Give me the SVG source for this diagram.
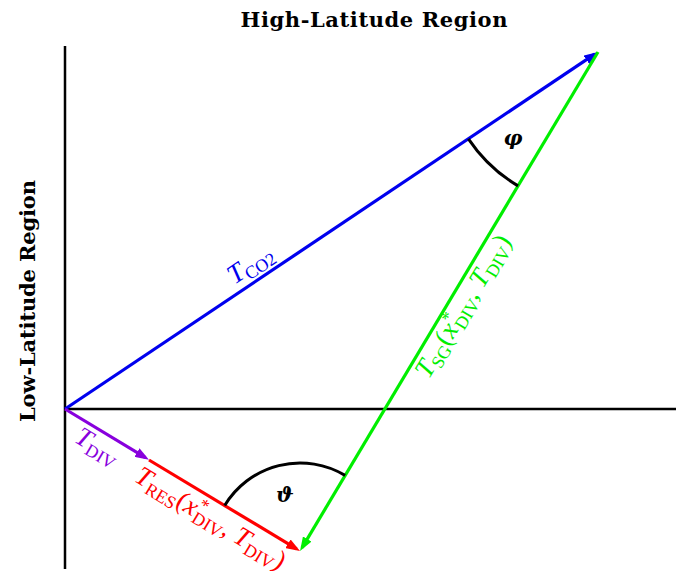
<svg xmlns="http://www.w3.org/2000/svg" width="676" height="574" viewBox="0 0 676 574">
<style>
.axis{stroke:#000;stroke-width:2.5;fill:none}
.vec{stroke-width:3.2;fill:none}
.arc{stroke:#000;stroke-width:3;fill:none}
.t{font-family:"Liberation Serif","DejaVu Serif",serif;font-size:27px}
.it{font-style:italic}
.sub{font-size:18px}
.hd{font-family:"DejaVu Serif","Liberation Serif",serif;font-size:21px;font-weight:bold}
.ang{font-family:"DejaVu Serif","Liberation Serif",serif;font-size:21px;font-weight:bold;font-style:italic}
</style>
<defs>
<marker id="ab" viewBox="0 0 14 10" refX="10" refY="5" markerWidth="14" markerHeight="10" markerUnits="userSpaceOnUse" orient="auto"><path d="M0,0 L14,5 L0,10 z" fill="#0000ee"/></marker>
<marker id="ag" viewBox="0 0 14 10" refX="10" refY="5" markerWidth="14" markerHeight="10" markerUnits="userSpaceOnUse" orient="auto"><path d="M0,0 L14,5 L0,10 z" fill="#00ee00"/></marker>
<marker id="ap" viewBox="0 0 14 10" refX="10" refY="5" markerWidth="14" markerHeight="10" markerUnits="userSpaceOnUse" orient="auto"><path d="M0,0 L14,5 L0,10 z" fill="#8800dd"/></marker>
<marker id="ar" viewBox="0 0 14 10" refX="10" refY="5" markerWidth="14" markerHeight="10" markerUnits="userSpaceOnUse" orient="auto"><path d="M0,0 L14,5 L0,10 z" fill="#ff0000"/></marker>
</defs>
<rect width="676" height="574" fill="#fff"/>
<g id="axes">
<line class="axis" x1="65" y1="46" x2="65" y2="569"/>
<line class="axis" x1="65" y1="409" x2="676" y2="409"/>
</g>
<g id="titles">
<text class="hd" x="374" y="27" text-anchor="middle" textLength="267">High-Latitude Region</text>
<text class="hd" transform="translate(35,301) rotate(-90)" text-anchor="middle" textLength="242">Low-Latitude Region</text>
</g>
<g id="connectors">
<line id="v-co2" class="vec" stroke="#0000ee" x1="65" y1="409" x2="594.7" y2="54.2" marker-end="url(#ab)"/>
<line id="v-sg" class="vec" stroke="#00ee00" x1="598" y1="52" x2="302.1" y2="547.6" marker-end="url(#ag)"/>
<line id="v-div" class="vec" stroke="#8800dd" x1="65" y1="409" x2="145.5" y2="457.7" marker-end="url(#ap)"/>
<line id="v-res" class="vec" stroke="#ff0000" x1="149" y1="460" x2="296.6" y2="548.9" marker-end="url(#ar)"/>
</g>
<g id="angles">
<path class="arc" d="M224.7,505.5 A88,88 0 0 1 345.1,475.4"/>
<path class="arc" d="M468.4,138.8 A156,156 0 0 0 518,185.9"/>
<text class="ang" x="285" y="502" text-anchor="middle">ϑ</text>
<text class="ang" x="513" y="145" text-anchor="middle">φ</text>
</g>
<g id="labels">
<text class="t" fill="#0000ee" transform="translate(252,267) rotate(-33.8)" text-anchor="middle" y="5"><tspan class="it">T</tspan><tspan class="sub" dy="5">CO2</tspan></text>
<text class="t" fill="#8800dd" transform="translate(96,449) rotate(31)" text-anchor="middle" y="5"><tspan class="it">T</tspan><tspan class="sub" dy="5">DIV</tspan></text>
<text class="t" fill="#ff0000" transform="translate(209,521) rotate(31.5)" text-anchor="middle" y="5"><tspan class="it">T</tspan><tspan class="sub" dy="5">RES</tspan><tspan dy="-5">(</tspan><tspan class="it">x</tspan><tspan class="sub" dy="-10">*</tspan><tspan class="sub" dx="-8" dy="15">DIV</tspan><tspan dy="-5">, </tspan><tspan class="it">T</tspan><tspan class="sub" dy="5">DIV</tspan><tspan dy="-5">)</tspan></text>
<text class="t" fill="#00ee00" transform="translate(466,308) rotate(-59)" text-anchor="middle" y="5"><tspan class="it">T</tspan><tspan class="sub" dy="5">SG</tspan><tspan dy="-5">(</tspan><tspan class="it">x</tspan><tspan class="sub" dy="-10">*</tspan><tspan class="sub" dx="-8" dy="15">DIV</tspan><tspan dy="-5">, </tspan><tspan class="it">T</tspan><tspan class="sub" dy="5">DIV</tspan><tspan dy="-5">)</tspan></text>
</g>
</svg>
